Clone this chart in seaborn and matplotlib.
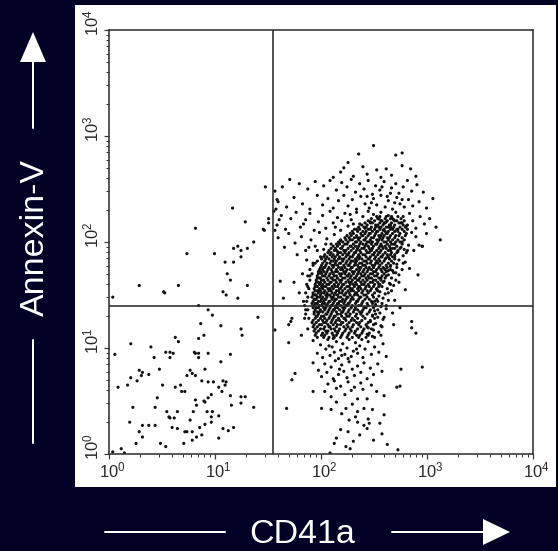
import numpy as np
import pandas as pd
import seaborn as sns
import matplotlib
matplotlib.use("Agg")
import matplotlib.pyplot as plt
from matplotlib.patches import Rectangle, Polygon
from matplotlib.lines import Line2D
from matplotlib.transforms import ScaledTranslation
from matplotlib.ticker import LogLocator, NullFormatter

# ---------------- data (log10 fluorescence: CD41a, Annexin-V) ----------------
lower_left = [
    (0.85, 1.40), (0.94, 1.36), (0.98, 1.31), (1.41, 1.29), (0.87, 1.23), (1.06, 1.21), (1.25, 1.18),
    (1.26, 1.12), (0.63, 1.10), (0.90, 1.12), (0.85, 1.09), (0.66, 1.06), (0.21, 1.04), (0.40, 1.01),
    (0.54, 0.96), (0.58, 0.96), (0.61, 0.95), (0.81, 0.96), (0.82, 0.95), (0.85, 0.95), (0.94, 0.95),
    (1.15, 0.94), (0.06, 0.94), (0.43, 0.91), (0.58, 0.91), (0.85, 0.91), (1.06, 0.87), (0.48, 0.80),
    (0.91, 0.80), (0.29, 0.79), (0.32, 0.77), (0.31, 0.74), (0.38, 0.75), (0.77, 0.79), (0.79, 0.76),
    (0.82, 0.74), (0.74, 0.74), (0.21, 0.72), (0.27, 0.69), (0.88, 0.69), (0.94, 0.68), (0.99, 0.68),
    (1.08, 0.69), (1.11, 0.68), (1.10, 0.65), (1.04, 0.63), (0.68, 0.65), (0.63, 0.63), (0.51, 0.65),
    (0.18, 0.65), (0.09, 0.63), (0.69, 0.59), (0.72, 0.59), (1.07, 0.59), (0.97, 0.56), (0.94, 0.53),
    (1.15, 0.55), (1.25, 0.54), (1.29, 0.54), (0.46, 0.53), (0.82, 0.51), (0.90, 0.50), (0.91, 0.49),
    (0.83, 0.46), (1.16, 0.46), (1.25, 0.48), (1.37, 0.44), (0.23, 0.44), (0.44, 0.44), (0.55, 0.40),
    (0.65, 0.40), (0.80, 0.40), (0.93, 0.40), (0.98, 0.40), (1.04, 0.36), (0.57, 0.35), (0.58, 0.34),
    (0.62, 0.34), (0.77, 0.32), (0.97, 0.35), (0.97, 0.30), (0.20, 0.30), (0.32, 0.27), (0.38, 0.27),
    (0.44, 0.27), (0.91, 0.28), (0.86, 0.25), (0.60, 0.25), (0.65, 0.24), (1.08, 0.24), (1.13, 0.22),
    (1.18, 0.25), (0.29, 0.21), (0.72, 0.21), (0.74, 0.21), (0.79, 0.21), (0.88, 0.18), (0.83, 0.16),
    (0.32, 0.16), (1.04, 0.15), (0.79, 0.13), (0.26, 0.10), (0.49, 0.10), (0.71, 0.10), (0.54, 0.07),
    (0.12, 0.05), (0.04, 0.02), (0.15, 0.01),
]

upper_left = [
    (1.48, 2.52), (1.17, 2.32), (1.29, 2.19), (1.51, 2.22), (1.51, 2.18), (1.46, 2.12), (1.47, 2.11),
    (0.82, 2.13), (1.37, 2.00), (1.18, 1.94), (1.22, 1.96), (1.25, 1.92), (1.31, 1.94), (0.74, 1.89),
    (1.00, 1.89), (1.10, 1.81), (1.18, 1.81), (1.25, 1.86), (1.12, 1.70), (1.15, 1.64), (1.31, 1.59),
    (0.29, 1.59), (0.52, 1.53), (0.53, 1.52), (0.66, 1.59), (1.08, 1.53), (1.11, 1.50), (1.22, 1.47),
    (0.04, 1.48),
]

upper_sparse = [
    (2.50, 2.91), (2.36, 2.83), (2.71, 2.82), (2.77, 2.84), (2.26, 2.75), (2.77, 2.72), (2.85, 2.69),
    (2.22, 2.70), (2.19, 2.66), (2.40, 2.71), (2.53, 2.68), (2.62, 2.69), (2.44, 2.64), (2.31, 2.62),
    (2.67, 2.63), (2.90, 2.62), (2.12, 2.61), (2.57, 2.61),
    (1.71, 2.59), (1.80, 2.55), (1.64, 2.52), (1.57, 2.48), (1.88, 2.50), (1.95, 2.57), (2.03, 2.53),
    (2.09, 2.58), (2.15, 2.49), (2.20, 2.56), (2.25, 2.52), (2.29, 2.59), (2.33, 2.47), (2.37, 2.55),
    (2.41, 2.50), (2.45, 2.58), (2.49, 2.45), (2.52, 2.53), (2.56, 2.49), (2.60, 2.57), (2.63, 2.43),
    (2.67, 2.51), (2.71, 2.55), (2.74, 2.46), (2.78, 2.52), (2.82, 2.58), (2.86, 2.48), (2.91, 2.54),
    (2.97, 2.47), (3.06, 2.41),
    (1.60, 2.38), (1.68, 2.33), (1.75, 2.42), (1.83, 2.36), (1.90, 2.31), (1.97, 2.44), (2.02, 2.35),
    (2.07, 2.41), (2.12, 2.32), (2.17, 2.39), (2.22, 2.44), (2.26, 2.34), (2.30, 2.40), (2.34, 2.31),
    (2.38, 2.43), (2.42, 2.36), (2.46, 2.32), (2.50, 2.41), (2.53, 2.35), (2.57, 2.44), (2.61, 2.33),
    (2.64, 2.39), (2.68, 2.31), (2.72, 2.42), (2.75, 2.36), (2.79, 2.33), (2.83, 2.40), (2.87, 2.34),
    (2.93, 2.38), (3.00, 2.32), (2.58, 2.52), (2.66, 2.46), (2.44, 2.43), (2.70, 2.37), (2.77, 2.40),
    (2.48, 2.37),
    (1.56, 2.29), (1.59, 2.16), (1.63, 2.25), (1.67, 2.12), (1.72, 2.22), (1.77, 2.28), (1.81, 2.14),
    (1.86, 2.21), (1.90, 2.27), (1.94, 2.11), (1.98, 2.19), (2.02, 2.25), (2.05, 2.13), (2.09, 2.29),
    (2.12, 2.18), (2.16, 2.23), (2.19, 2.11), (2.23, 2.27), (2.26, 2.15), (2.29, 2.21), (2.32, 2.12),
    (2.34, 2.28), (2.37, 2.17), (2.40, 2.24), (2.42, 2.13), (2.45, 2.29), (2.47, 2.19), (2.50, 2.26),
    (2.52, 2.14), (2.55, 2.22), (2.57, 2.28), (2.59, 2.11), (2.62, 2.19), (2.64, 2.25), (2.66, 2.14),
    (2.69, 2.21), (2.71, 2.28), (2.73, 2.12), (2.76, 2.18), (2.78, 2.24), (2.81, 2.15), (2.84, 2.27),
    (2.87, 2.20), (2.90, 2.13), (2.94, 2.24), (2.98, 2.17), (3.03, 2.22), (3.09, 2.14),
    (2.20, 2.20), (2.28, 2.26), (2.14, 2.14), (2.31, 2.17), (1.61, 2.21), (1.84, 2.17),
    (1.60, 2.04), (1.66, 1.95), (1.70, 2.08), (1.76, 1.99), (1.82, 2.05), (1.86, 1.92), (1.91, 2.02),
    (1.95, 1.96), (1.99, 2.09), (2.03, 1.93), (2.06, 2.03), (2.10, 1.98), (2.13, 2.07), (2.16, 1.91),
    (2.19, 2.01), (2.90, 2.05), (2.93, 1.97), (2.96, 1.96), (3.13, 2.02), (3.00, 2.08), (2.88, 1.92),
    (2.86, 2.09), (1.59, 2.40), (1.58, 2.31), (1.57, 2.11),
]

core_edges = [
    (2.86, 1.25), (2.86, 1.19), (2.90, 1.14), (2.92, 1.69), (2.96, 1.96), (2.70, 1.45), (2.74, 1.62),
    (2.78, 1.80), (2.82, 1.92), (2.68, 1.33), (2.64, 1.52), (2.71, 1.71), (2.66, 1.88), (2.60, 1.29),
    (2.62, 1.40), (2.58, 1.20), (2.66, 1.60), (2.80, 1.55), (2.75, 1.38), (2.69, 1.22), (2.57, 1.12),
    (2.84, 1.75), (2.77, 2.00),
    (1.57, 1.17), (1.70, 1.05), (1.70, 1.22), (1.73, 1.28), (1.72, 1.25), (1.75, 1.62), (1.80, 1.52),
    (1.84, 1.44), (1.86, 1.36), (1.83, 1.70), (1.88, 1.58), (1.87, 1.83), (1.78, 1.88), (1.85, 1.28),
    (1.88, 1.18), (1.82, 1.12), (1.65, 1.47), (1.62, 1.63), (1.89, 1.95), (1.93, 1.80), (1.90, 1.68),
    (2.00, 1.86), (1.97, 1.92), (2.05, 1.98),
    (2.70, 1.98), (2.76, 1.95), (2.81, 1.90), (2.73, 1.91), (2.78, 1.87), (2.70, 1.86), (2.74, 1.83),
    (2.80, 1.81), (2.69, 1.80), (2.66, 1.77), (2.72, 1.76), (2.77, 1.74), (2.64, 1.73), (2.69, 1.71),
    (2.74, 1.69), (2.62, 1.68), (2.67, 1.66), (2.71, 1.64), (2.60, 1.63), (2.65, 1.61), (2.69, 1.59),
    (2.58, 1.58), (2.63, 1.56), (2.67, 1.54), (2.56, 1.53), (2.61, 1.51), (2.55, 1.49), (2.59, 1.47),
    (2.64, 1.45), (2.54, 1.44), (2.58, 1.42), (2.52, 1.41), (2.57, 1.39), (2.62, 1.37), (2.51, 1.35),
    (2.56, 1.33), (2.49, 1.31), (2.54, 1.29), (2.59, 1.27), (2.47, 1.25), (2.52, 1.23), (2.57, 1.21),
    (2.45, 1.19), (2.50, 1.17), (2.55, 1.15), (2.44, 1.13), (2.49, 1.11), (2.83, 1.97), (2.79, 1.93),
    (2.66, 1.94), (2.62, 1.85), (2.60, 1.75), (2.57, 1.66), (2.55, 1.60), (2.53, 1.55), (2.72, 1.79),
    (2.68, 1.73), (2.64, 1.69),
]

lower_tail = [
    (1.93, 1.07), (1.97, 0.95), (2.00, 1.03), (2.02, 0.91), (2.05, 0.99), (2.07, 1.08), (2.09, 0.93),
    (2.11, 1.01), (2.13, 0.96), (2.15, 1.06), (2.17, 0.90), (2.19, 0.98), (2.21, 1.04), (2.23, 0.94),
    (2.25, 1.00), (2.27, 1.08), (2.29, 0.92), (2.31, 0.97), (2.33, 1.05), (2.35, 0.95), (2.37, 1.02),
    (2.40, 0.91), (2.42, 0.99), (2.45, 1.06), (2.48, 0.94), (2.51, 1.01), (2.55, 0.96), (2.59, 1.04),
    (2.62, 0.92), (2.12, 1.09), (2.26, 0.90), (2.39, 1.08), (2.20, 0.93), (2.08, 1.02), (2.34, 0.99),
    (1.93, 0.86), (1.98, 0.79), (2.01, 0.73), (2.04, 0.85), (2.06, 0.77), (2.10, 0.82), (2.12, 0.71),
    (2.14, 0.88), (2.17, 0.75), (2.20, 0.84), (2.22, 0.78), (2.25, 0.72), (2.27, 0.87), (2.30, 0.80),
    (2.32, 0.74), (2.35, 0.83), (2.38, 0.77), (2.41, 0.86), (2.44, 0.71), (2.47, 0.81), (2.50, 0.75),
    (2.54, 0.85), (2.58, 0.78), (2.76, 0.80), (2.96, 0.82), (1.76, 0.76), (1.73, 0.70), (2.18, 0.80),
    (1.93, 0.59), (2.04, 0.59), (2.07, 0.66), (2.10, 0.54), (2.15, 0.62), (2.19, 0.64), (2.23, 0.56),
    (2.26, 0.68), (2.29, 0.60), (2.32, 0.63), (2.35, 0.52), (2.38, 0.67), (2.40, 0.61), (2.44, 0.52),
    (2.48, 0.65), (2.53, 0.59), (2.60, 0.55), (2.72, 0.63), (2.75, 0.64), (2.13, 0.69),
    (1.68, 0.43), (2.01, 0.43), (2.10, 0.42), (2.15, 0.49), (2.24, 0.43), (2.30, 0.47), (2.35, 0.40),
    (2.41, 0.43), (2.49, 0.42), (2.60, 0.37), (2.33, 0.35), (2.20, 0.38), (2.45, 0.33), (2.56, 0.29),
    (2.27, 0.32),
    (2.09, 0.01), (2.15, 0.15), (2.13, 0.10), (2.26, 0.21), (2.24, 0.07), (2.28, 0.05), (2.35, 0.30),
    (2.41, 0.27), (2.44, 0.24), (2.46, 0.29), (2.50, 0.13), (2.58, 0.19), (2.63, 0.09), (2.73, 0.04),
    (2.37, 0.18), (2.31, 0.12), (2.19, 0.23),
]

# dense core: log10 Annexin-V row -> log10 CD41a values in that row
core_rows = {
    2.24: [2.53, 2.56, 2.62, 2.67, 2.73],
    2.22: [2.48, 2.54, 2.55, 2.61, 2.66, 2.68, 2.76],
    2.20: [2.45, 2.51, 2.57, 2.58, 2.63, 2.70, 2.72, 2.79],
    2.18: [2.42, 2.47, 2.49, 2.56, 2.60, 2.61, 2.67, 2.74, 2.77],
    2.16: [2.39, 2.44, 2.52, 2.54, 2.59, 2.65, 2.66, 2.70, 2.78, 2.82],
    2.14: [2.36, 2.41, 2.43, 2.48, 2.55, 2.57, 2.62, 2.64, 2.69, 2.75, 2.80],
    2.12: [2.34, 2.37, 2.45, 2.47, 2.51, 2.56, 2.60, 2.66, 2.68, 2.72, 2.77, 2.82],
    2.10: [2.30, 2.35, 2.40, 2.43, 2.49, 2.53, 2.54, 2.61, 2.64, 2.70, 2.73, 2.79],
    2.08: [2.28, 2.31, 2.38, 2.42, 2.46, 2.47, 2.52, 2.58, 2.62, 2.63, 2.68, 2.75, 2.81],
    2.06: [2.25, 2.29, 2.34, 2.39, 2.40, 2.45, 2.51, 2.55, 2.57, 2.60, 2.66, 2.71, 2.74, 2.80],
    2.04: [2.23, 2.27, 2.32, 2.35, 2.37, 2.43, 2.48, 2.50, 2.56, 2.59, 2.63, 2.65, 2.70, 2.77],
    2.02: [2.19, 2.24, 2.28, 2.30, 2.36, 2.41, 2.42, 2.47, 2.53, 2.55, 2.58, 2.64, 2.68, 2.73, 2.79],
    2.00: [2.17, 2.21, 2.26, 2.33, 2.34, 2.38, 2.44, 2.46, 2.49, 2.54, 2.60, 2.62, 2.66, 2.71, 2.75],
    1.98: [2.15, 2.18, 2.23, 2.25, 2.31, 2.37, 2.40, 2.43, 2.48, 2.52, 2.53, 2.57, 2.63, 2.67, 2.69, 2.77],
    1.96: [2.12, 2.16, 2.21, 2.28, 2.29, 2.33, 2.36, 2.42, 2.45, 2.50, 2.56, 2.58, 2.61, 2.65, 2.72],
    1.94: [2.10, 2.14, 2.19, 2.20, 2.26, 2.31, 2.35, 2.39, 2.41, 2.46, 2.49, 2.55, 2.59, 2.62, 2.68, 2.70, 2.75],
    1.92: [2.08, 2.13, 2.15, 2.22, 2.24, 2.29, 2.34, 2.37, 2.43, 2.47, 2.48, 2.53, 2.57, 2.64, 2.66, 2.73],
    1.90: [2.07, 2.10, 2.17, 2.19, 2.23, 2.27, 2.32, 2.33, 2.38, 2.44, 2.46, 2.51, 2.55, 2.56, 2.61, 2.67, 2.72],
    1.88: [2.04, 2.09, 2.12, 2.16, 2.21, 2.25, 2.26, 2.31, 2.36, 2.40, 2.42, 2.49, 2.50, 2.54, 2.59, 2.63, 2.70],
    1.86: [2.03, 2.06, 2.11, 2.14, 2.18, 2.24, 2.28, 2.30, 2.35, 2.37, 2.43, 2.47, 2.52, 2.57, 2.58, 2.64, 2.68],
    1.84: [2.01, 2.05, 2.08, 2.13, 2.17, 2.20, 2.22, 2.27, 2.33, 2.36, 2.39, 2.45, 2.46, 2.51, 2.55, 2.61, 2.65, 2.70],
    1.82: [1.97, 2.04, 2.10, 2.12, 2.15, 2.21, 2.25, 2.29, 2.31, 2.34, 2.41, 2.43, 2.48, 2.53, 2.56, 2.60, 2.67],
    1.80: [1.95, 2.02, 2.06, 2.09, 2.14, 2.18, 2.19, 2.24, 2.28, 2.33, 2.37, 2.39, 2.44, 2.47, 2.52, 2.54, 2.58, 2.64],
    1.78: [1.93, 2.01, 2.05, 2.11, 2.13, 2.16, 2.22, 2.26, 2.27, 2.32, 2.35, 2.40, 2.42, 2.49, 2.51, 2.56, 2.62, 2.66],
    1.76: [2.00, 2.03, 2.04, 2.08, 2.12, 2.17, 2.20, 2.23, 2.29, 2.30, 2.36, 2.38, 2.43, 2.46, 2.50, 2.55, 2.59, 2.63],
    1.74: [1.90, 1.99, 2.02, 2.07, 2.10, 2.15, 2.19, 2.21, 2.25, 2.28, 2.34, 2.37, 2.41, 2.45, 2.48, 2.53, 2.57, 2.61, 2.66],
    1.72: [1.98, 2.00, 2.03, 2.06, 2.11, 2.14, 2.16, 2.22, 2.24, 2.30, 2.32, 2.36, 2.40, 2.44, 2.50, 2.52, 2.58, 2.62],
    1.70: [1.92, 1.98, 2.01, 2.05, 2.09, 2.12, 2.18, 2.20, 2.23, 2.27, 2.31, 2.35, 2.38, 2.42, 2.47, 2.49, 2.54, 2.60],
    1.68: [1.88, 1.97, 2.02, 2.04, 2.08, 2.13, 2.15, 2.19, 2.25, 2.26, 2.29, 2.34, 2.39, 2.41, 2.45, 2.51, 2.53, 2.58],
    1.66: [1.97, 1.99, 2.00, 2.06, 2.10, 2.11, 2.16, 2.21, 2.23, 2.28, 2.32, 2.33, 2.37, 2.43, 2.46, 2.48, 2.55, 2.61],
    1.64: [1.90, 1.96, 2.01, 2.03, 2.07, 2.12, 2.14, 2.18, 2.20, 2.26, 2.30, 2.35, 2.36, 2.40, 2.44, 2.50, 2.52, 2.57],
    1.62: [1.96, 1.98, 2.00, 2.04, 2.09, 2.10, 2.15, 2.19, 2.24, 2.27, 2.29, 2.33, 2.38, 2.42, 2.47, 2.49, 2.54, 2.59],
    1.60: [1.87, 1.95, 1.99, 2.02, 2.06, 2.08, 2.13, 2.17, 2.21, 2.22, 2.28, 2.31, 2.34, 2.39, 2.41, 2.45, 2.51, 2.56],
    1.58: [1.95, 1.97, 2.01, 2.03, 2.05, 2.11, 2.14, 2.16, 2.20, 2.25, 2.27, 2.32, 2.36, 2.37, 2.43, 2.46, 2.50, 2.55],
    1.56: [1.89, 1.94, 1.99, 2.02, 2.07, 2.09, 2.12, 2.18, 2.19, 2.23, 2.28, 2.30, 2.35, 2.38, 2.42, 2.48, 2.53],
    1.54: [1.97, 1.95, 1.99, 2.00, 2.04, 2.08, 2.10, 2.15, 2.17, 2.21, 2.26, 2.29, 2.31, 2.36, 2.40, 2.44, 2.47, 2.54],
    1.52: [1.86, 1.93, 1.98, 2.01, 2.03, 2.06, 2.11, 2.14, 2.18, 2.20, 2.24, 2.27, 2.33, 2.34, 2.39, 2.45, 2.51],
    1.50: [1.93, 1.95, 1.96, 2.00, 2.05, 2.07, 2.09, 2.13, 2.16, 2.22, 2.23, 2.28, 2.32, 2.35, 2.41, 2.43, 2.49],
    1.48: [1.88, 1.92, 1.97, 1.99, 2.02, 2.06, 2.10, 2.12, 2.17, 2.19, 2.25, 2.26, 2.30, 2.37, 2.38, 2.44, 2.50],
    1.46: [1.95, 1.94, 1.96, 2.01, 2.04, 2.05, 2.11, 2.14, 2.15, 2.21, 2.24, 2.29, 2.31, 2.36, 2.42, 2.46, 2.53],
    1.44: [1.87, 1.93, 1.98, 2.00, 2.03, 2.08, 2.09, 2.13, 2.18, 2.20, 2.23, 2.28, 2.34, 2.35, 2.40, 2.48, 2.51],
    1.42: [1.92, 1.95, 1.97, 2.02, 2.04, 2.07, 2.12, 2.16, 2.17, 2.22, 2.26, 2.27, 2.33, 2.39, 2.44, 2.49],
    1.40: [1.85, 1.94, 1.99, 2.01, 2.06, 2.10, 2.11, 2.15, 2.19, 2.24, 2.25, 2.30, 2.36, 2.38, 2.45, 2.52],
    1.38: [1.96, 1.93, 1.98, 2.03, 2.05, 2.09, 2.14, 2.16, 2.21, 2.23, 2.29, 2.33, 2.41, 2.43, 2.50],
    1.36: [1.88, 1.95, 2.00, 2.04, 2.08, 2.12, 2.13, 2.18, 2.22, 2.27, 2.32, 2.35, 2.40, 2.47, 2.54],
    1.34: [1.94, 1.97, 1.99, 2.02, 2.07, 2.11, 2.15, 2.20, 2.21, 2.26, 2.31, 2.37, 2.39, 2.46],
    1.32: [1.86, 1.94, 1.98, 2.05, 2.06, 2.10, 2.16, 2.19, 2.24, 2.28, 2.34, 2.38, 2.44, 2.52],
    1.30: [1.97, 1.96, 2.01, 2.03, 2.09, 2.13, 2.14, 2.20, 2.25, 2.27, 2.33, 2.40, 2.49],
    1.28: [1.89, 1.95, 2.00, 2.04, 2.08, 2.12, 2.17, 2.22, 2.23, 2.30, 2.35, 2.42, 2.51],
    1.26: [1.93, 1.98, 2.02, 2.06, 2.11, 2.15, 2.18, 2.24, 2.29, 2.32, 2.39, 2.47],
    1.24: [1.92, 1.96, 2.03, 2.05, 2.10, 2.14, 2.20, 2.21, 2.27, 2.34, 2.37, 2.45],
    1.22: [1.94, 1.99, 2.01, 2.07, 2.12, 2.16, 2.19, 2.25, 2.31, 2.36, 2.43, 2.50],
    1.20: [1.93, 1.97, 2.04, 2.08, 2.09, 2.15, 2.22, 2.26, 2.30, 2.38, 2.44],
    1.18: [1.95, 2.00, 2.03, 2.10, 2.13, 2.18, 2.24, 2.28, 2.35, 2.41, 2.48],
    1.16: [1.94, 1.98, 2.05, 2.07, 2.14, 2.17, 2.23, 2.29, 2.33, 2.40],
    1.14: [1.96, 2.02, 2.06, 2.11, 2.16, 2.21, 2.27, 2.32, 2.39, 2.46],
    1.12: [1.95, 2.01, 2.04, 2.12, 2.15, 2.20, 2.26, 2.34, 2.37, 2.45],
    1.10: [1.97, 2.03, 2.08, 2.13, 2.19, 2.25, 2.30, 2.36, 2.43, 2.51],
}

gate_cd41a_log = 1.555      # vertical quadrant marker
gate_annexin_log = 1.40     # horizontal quadrant marker
decades = [1, 10, 100, 1000, 10000]
tick_labels = [r"$10^{0}$", r"$10^{1}$", r"$10^{2}$", r"$10^{3}$", r"$10^{4}$"]

# ---------------- build table ----------------
pts = []
for region in (lower_left, upper_left, upper_sparse, core_edges, lower_tail):
    pts.extend(region)
for yv, xs in core_rows.items():
    pts.extend((xv, yv) for xv in xs)
df = pd.DataFrame(pts, columns=["log_cd41a", "log_annexin"])
df["CD41a"] = 10 ** df["log_cd41a"]
df["Annexin-V"] = 10 ** df["log_annexin"]

# ---------------- figure ----------------
sns.set_theme(style="white")
plt.rcParams["font.family"] = ["Liberation Sans", "DejaVu Sans"]
plt.rcParams["mathtext.fontset"] = "custom"
plt.rcParams["mathtext.rm"] = "Liberation Sans"
plt.rcParams["mathtext.it"] = "Liberation Sans"
plt.rcParams["mathtext.bf"] = "Liberation Sans"

W, H = 558, 551
BG = "#020024"
fig = plt.figure(figsize=(W / 72, H / 72), dpi=72, facecolor=BG)

def fx(px):
    return px / W

def fy(py):
    return 1 - py / H

panel = Rectangle((fx(75), fy(487)), fx(556) - fx(75), fy(5) - fy(487),
                  transform=fig.transFigure, facecolor="white", edgecolor="none", zorder=-5)
fig.patches.append(panel)

ax = fig.add_axes([fx(108.5), fy(454), 424 / W, 424 / H])
ax.set_zorder(2)
ax.set_facecolor("white")
sns.scatterplot(data=df, x="CD41a", y="Annexin-V", ax=ax, s=10, color="#111111",
                linewidth=0, edgecolor="none", legend=False, zorder=2)
ax.set_xscale("log")
ax.set_yscale("log")
ax.set_xlim(1, 1e4)
ax.set_ylim(1, 1e4)
ax.set_xlabel("")
ax.set_ylabel("")

ax.axvline(10 ** gate_cd41a_log, color="#2b2b2b", lw=1.6, zorder=3)
ax.axhline(10 ** gate_annexin_log, color="#2b2b2b", lw=1.6, zorder=3)

for sp in ax.spines.values():
    sp.set_visible(True)
    sp.set_color("#333333")
    sp.set_linewidth(1.6)

ax.set_xticks(decades)
ax.set_yticks(decades)
ax.set_xticklabels(tick_labels, fontsize=16.5, color="#2a2a2a")
ax.set_yticklabels(tick_labels, rotation=90, va="center", fontsize=16.5, color="#2a2a2a")
ax.xaxis.set_minor_locator(LogLocator(base=10, subs=np.arange(2, 10)))
ax.yaxis.set_minor_locator(LogLocator(base=10, subs=np.arange(2, 10)))
ax.xaxis.set_minor_formatter(NullFormatter())
ax.yaxis.set_minor_formatter(NullFormatter())
ax.tick_params(which="major", direction="out", length=5, width=1.2, color="#333333",
               bottom=True, left=True, pad=2)
ax.tick_params(which="minor", direction="out", length=3, width=1.0, color="#333333",
               bottom=True, left=True)
for lab in ax.get_xticklabels():
    lab.set_transform(lab.get_transform() + ScaledTranslation(4 / 72, 0, fig.dpi_scale_trans))
for lab in ax.get_yticklabels():
    lab.set_transform(lab.get_transform() + ScaledTranslation(0, 7 / 72, fig.dpi_scale_trans))

# ---------------- axis titles with arrows (white on dark) ----------------
fig.text(fx(302), fy(543), "CD41a", color="white", fontsize=34, ha="center", va="baseline")
fig.add_artist(Line2D([fx(105), fx(225)], [fy(532), fy(532)], color="white", lw=2,
                      transform=fig.transFigure))
fig.add_artist(Line2D([fx(392), fx(486)], [fy(532), fy(532)], color="white", lw=2,
                      transform=fig.transFigure))
fig.add_artist(Polygon([(fx(483), fy(519)), (fx(483), fy(545)), (fx(510), fy(532))],
                       closed=True, facecolor="white", edgecolor="none",
                       transform=fig.transFigure))

fig.text(fx(35), fy(238), "Annexin-V", color="white", fontsize=34, rotation=90,
         ha="center", va="center")
fig.add_artist(Line2D([fx(33), fx(33)], [fy(62), fy(128)], color="white", lw=2,
                      transform=fig.transFigure))
fig.add_artist(Polygon([(fx(20), fy(62)), (fx(46), fy(62)), (fx(33), fy(32))],
                       closed=True, facecolor="white", edgecolor="none",
                       transform=fig.transFigure))
fig.add_artist(Line2D([fx(33), fx(33)], [fy(340), fy(443)], color="white", lw=2,
                      transform=fig.transFigure))

fig.savefig("out.png", dpi=72, facecolor=BG)
